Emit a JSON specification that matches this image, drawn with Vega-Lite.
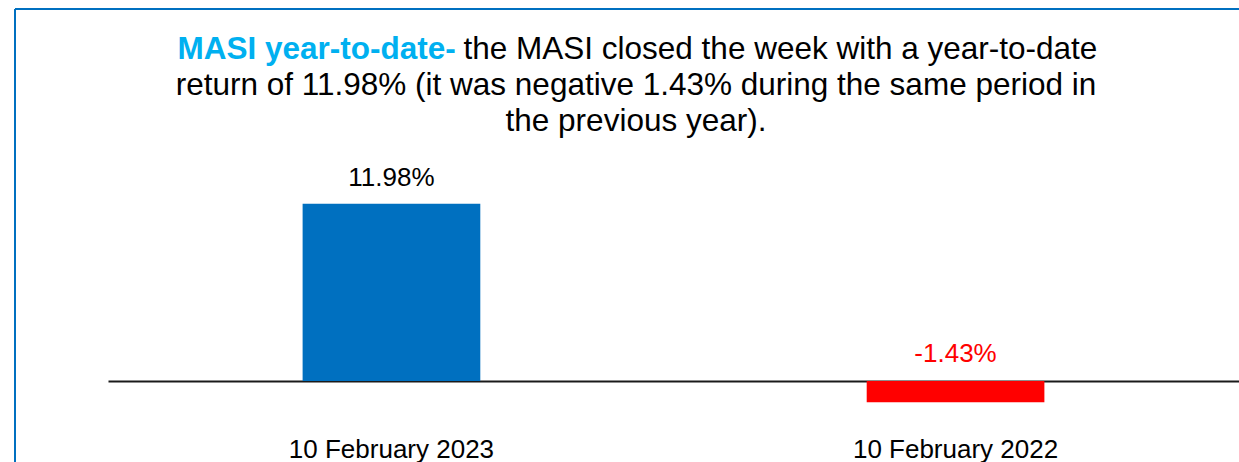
{
  "$schema": "https://vega.github.io/schema/vega-lite/v6.json",
  "autosize": {"type": "none"},
  "width": 1224,
  "height": 453,
  "padding": {"left": 15, "top": 9, "right": 0, "bottom": 0},
  "background": "white",
  "title": {
    "text": "MASI year-to-date-\u00a0\u00a0\u00a0\u00a0\u00a0\u00a0\u00a0\u00a0\u00a0\u00a0\u00a0\u00a0\u00a0\u00a0\u00a0\u00a0\u00a0\u00a0\u00a0\u00a0\u00a0\u00a0\u00a0\u00a0\u00a0\u00a0\u00a0\u00a0\u00a0\u00a0\u00a0\u00a0\u00a0\u00a0\u00a0\u00a0\u00a0\u00a0\u00a0\u00a0\u00a0\u00a0\u00a0\u00a0\u00a0\u00a0\u00a0\u00a0\u00a0\u00a0\u00a0\u00a0\u00a0\u00a0\u00a0\u00a0\u00a0\u00a0\u00a0\u00a0\u00a0\u00a0\u00a0\u00a0\u00a0\u00a0\u00a0\u00a0\u00a0\u00a0\u00a0\u00a0\u00a0\u200b",
    "subtitle": [
      "\u200b\u00a0\u00a0\u00a0\u00a0\u00a0\u00a0\u00a0\u00a0\u00a0\u00a0\u00a0\u00a0\u00a0\u00a0\u00a0\u00a0\u00a0\u00a0\u00a0\u00a0\u00a0\u00a0\u00a0\u00a0\u00a0\u00a0\u00a0\u00a0\u00a0\u00a0\u00a0\u00a0\u00a0the MASI closed the week with a year-to-date",
      "return of 11.98% (it was negative 1.43% during the same period in",
      "the previous year)."
    ],
    "anchor": "middle",
    "frame": "group",
    "orient": "top",
    "dx": 9,
    "offset": -128,
    "font": "Liberation Sans",
    "fontSize": 31.5,
    "fontWeight": "bold",
    "color": "#00B0F0",
    "subtitleFont": "Liberation Sans",
    "subtitleFontSize": 31.5,
    "subtitleFontWeight": "normal",
    "subtitleColor": "#000000",
    "subtitleLineHeight": 36,
    "subtitlePadding": -31.5
  },
  "data": {
    "values": [
      {"date": "10 February 2023", "value": 11.98, "label": "11.98%"},
      {"date": "10 February 2022", "value": -1.43, "label": "-1.43%"}
    ]
  },
  "encoding": {
    "x": {
      "field": "date",
      "type": "nominal",
      "sort": null,
      "scale": {"range": [93, 1224], "paddingInner": 0.685, "paddingOuter": 0.345},
      "axis": {
        "title": null,
        "orient": "bottom",
        "offset": -81,
        "domain": true,
        "domainColor": "#1a1a1a",
        "domainWidth": 2,
        "ticks": false,
        "grid": false,
        "labelAngle": 0,
        "labelFont": "Liberation Sans",
        "labelFontSize": 26,
        "labelColor": "#000000",
        "labelPadding": 55,
        "labelLimit": 0
      }
    }
  },
  "layer": [
    {
      "mark": {"type": "bar"},
      "encoding": {
        "y": {
          "field": "value",
          "type": "quantitative",
          "scale": {"domain": [-5.47, 25.14], "nice": false, "zero": false},
          "axis": null
        },
        "color": {
          "field": "date",
          "type": "nominal",
          "scale": {"domain": ["10 February 2023", "10 February 2022"], "range": ["#0070C0", "#FF0000"]},
          "legend": null
        }
      }
    },
    {
      "transform": [{"filter": "datum.value >= 0"}],
      "mark": {"type": "text", "baseline": "alphabetic", "dy": -18, "font": "Liberation Sans", "fontSize": 26, "color": "#000000"},
      "encoding": {
        "y": {"field": "value", "type": "quantitative"},
        "text": {"field": "label"}
      }
    },
    {
      "transform": [{"filter": "datum.value < 0"}],
      "mark": {"type": "text", "baseline": "alphabetic", "dy": -19, "font": "Liberation Sans", "fontSize": 26, "color": "#FF0000"},
      "encoding": {
        "y": {"datum": 0, "type": "quantitative"},
        "text": {"field": "label"}
      }
    }
  ],
  "config": {
    "view": {
      "stroke": "#0070C0",
      "strokeWidth": 2,
      "strokeDash": [1224, 1677, 453, 0]
    }
  }
}
